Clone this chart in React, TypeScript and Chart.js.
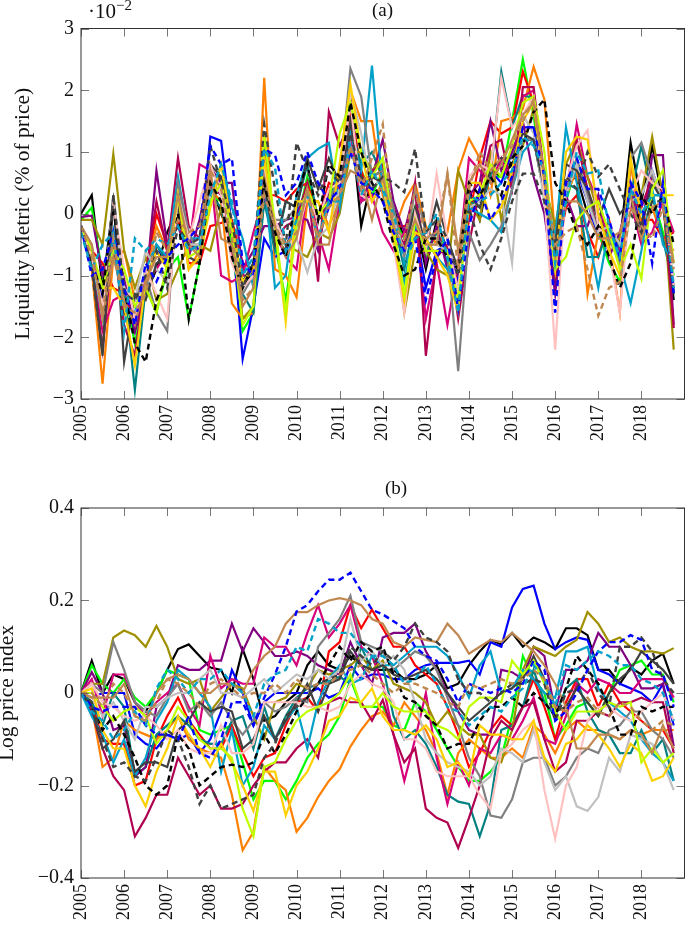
import React, { useEffect, useRef } from "react";
import { Chart, registerables } from "chart.js";

Chart.register(...registerables);

const FONT = '"Liberation Serif", serif';

const years = [2005, 2006, 2007, 2008, 2009, 2010, 2011, 2012, 2013, 2014, 2015, 2016, 2017, 2018];
const quarters = years.flatMap((y) => [y, y + 0.25, y + 0.5, y + 0.75]);

const seriesColors = ["#000000", "#00ff00", "#0000ff", "#ff0000", "#ff8000", "#008080", "#800080", "#d6007a", "#a09000", "#b00050", "#00a0c8", "#808080", "#c0c0c0", "#404040", "#ffc0c0", "#ffd000", "#c0ff00", "#c08850", "#000000", "#404040", "#0000ff", "#00a0c8", "#c08850"];
const seriesDashed = [false, false, false, false, false, false, false, false, false, false, false, false, false, false, false, false, false, false, true, true, true, true, true];

// Panel (a): liquidity metric, in units of 10^-2
const liqBlack = [0, .3, -1.2, .2, -1.6, -1.9, -1.3, -.9, -.3, .1, -.5, -.6, .5, 0, -.4, -1.2, -.9, .4, -.4, -.6, -.1, .5, -.1, .1, .6, 1.6, -.2, .6, .7, .1, -.4, -.1, -.9, -.1, -.6, -1.1, .4, -.1, .7, .6, .8, 1.2, 1.2, .3, -1, .5, .6, 0, -.2, -.3, -.5, 1.15, .2, 1.1, .2, -1.4];
const liqLime = [-.1, .1, -1, -.3, -1.2, -2.1, -1.2, -1.6, -.9, -.7, -1.7, -.8, .3, .2, -.5, -1.9, -1.6, .3, -.5, -1.4, -.2, .6, -.1, .2, .7, 1.7, .7, .3, .7, -.1, -.4, .1, -.7, -.3, -.6, -1.2, .1, .3, .6, .6, 1.5, 2.5, 1.6, .2, -1.1, .2, .8, .4, -.3, -.8, -1.1, .1, -.1, .3, -.3, -1];
const liqBlue = [-.2, -.7, -1.4, -.3, -1.3, -1.9, -1.1, -.6, -.7, -.1, -.4, -.6, 1.25, 1.18, -.2, -2.35, -1.5, -.4, -.7, -.6, 0, .4, -.4, .1, .5, 1.4, .6, .3, .4, -.4, -.6, -.2, -1.2, -.6, -.5, -1.1, .3, .2, .7, .5, 1, 1.4, 1.4, .3, -1.2, .4, .7, .2, -.4, -.3, -.8, .5, -.2, .7, .2, -1.2];
const liqRed = [-.3, -.6, -.8, -1.2, -1.3, -1.8, -1, 0, -.5, -.1, -.8, -.8, -.2, -.15, -.1, -.8, -.9, .3, .3, .2, .4, .5, -.1, .5, .4, 1.7, .7, .2, .5, -.2, -.2, -.1, -.4, -.7, -.5, -1.2, -.1, .9, 1.5, 1.3, 1.4, 2.3, 1.8, .3, -.8, .1, .3, -.3, -.7, -.1, -.8, .1, -.1, -.1, -.4, -.3];
const liqOrange = [-.2, -.9, -2.75, -.7, -.6, -1.4, -1, -.2, -.6, .2, -.9, -.6, .4, .2, -1.45, -1.7, -1.6, 2.2, -.9, -1, -1.35, .2, .2, -.2, .2, 2, 1.5, 1.5, .3, -.3, .2, .5, -.2, -.5, -.3, .7, 1.22, .9, .3, 1.5, 1.55, 1.7, 2.38, 1.85, -.4, .3, .7, -1.3, -.3, -.5, -1.6, .8, -.2, .1, -.4, -.6];
const liqTeal = [-.2, -.6, -1.8, -.6, -1.2, -2.85, -1.2, -.5, -.8, .4, -.6, -.5, .3, .1, -.6, -1.3, -1.6, .2, -.6, .2, .1, .8, -.1, .3, .7, 1.4, .8, 1, .6, -.1, -.9, -.1, -.6, -.3, -.8, -1, .2, .1, .6, 2.3, 1.4, 1.92, 1.87, .3, -1, .5, .4, -.7, -.7, -.2, -.6, .3, 1.1, .3, -.4, -1.2];
const liqPurple = [-.05, -.03, -1, -.6, -1, -1.9, -1.2, .7, -.5, -.2, -.7, -.1, .75, .5, .5, -.9, -.6, -.2, -.2, -.1, -.05, -.1, -.6, .4, .6, 1.9, .2, .6, 1.2, .2, -.3, .4, -.8, -.2, -.9, -1, .3, .5, 1.5, .7, 1, 1.5, .6, 0, -1.3, .3, -.2, -.2, .3, -.7, -.3, .4, -.4, .95, .95, -1.8];
const liqMagenta = [-.2, -.8, -1.9, -1.4, -1.3, -1.4, -1.1, -.9, -.6, .2, -.6, .8, .7, -1, -1.1, -1, -.3, .3, -.3, -.7, -.9, .4, -.3, -.9, .2, 1.3, .2, .3, -.3, -.6, -.3, 0, -1.7, -.8, -1.8, -.8, .9, .7, .5, .9, .4, 1.9, 2, .3, -.9, .3, 1.45, .6, .2, -.4, -.6, .2, -.5, -.3, .2, -.3];
const liqOlive = [-.1, -.1, -.5, .97, -.6, -1.2, -.7, -1.4, -1.3, -.9, -.5, -.5, -.6, .1, -.3, -1.7, -1.5, 1.2, -.4, -.5, -.6, -.7, -.3, -.4, 0, 1, 1, .7, .9, -.2, -1.6, -.6, -.6, -.9, -1, .7, .2, -.1, 1, -.1, .7, 1.1, 1.7, .5, -.2, .8, 1.2, .6, 0, -.5, -.4, .3, .3, 1.25, .3, -2.2];
const liqCrimson = [-.2, -.8, -2.2, -.4, -1.8, -2.3, -1, .2, -.6, .9, -.2, -.4, .5, .3, -.7, -1, -1, .5, -.4, -.2, -.1, .5, -1.1, 1.65, 1.1, 1.5, .4, .7, .8, -.2, -.5, .5, -2.3, -.7, -.5, -1.7, -.5, .4, 1.1, 1.2, .4, 2.05, 2.05, .6, -1, .4, 1.2, .4, -.3, -.2, -.7, .2, .1, .6, .3, -1.85];
const liqCyan = [-.2, -.7, -1.7, -.3, -1.5, -1.6, -.9, -.5, -.7, .6, -.4, -.4, .3, .8, .1, -.4, -1.2, .6, -1.2, -1, .3, .9, 1.05, 1.15, .1, 1.3, .7, 2.4, .4, -.4, -1.1, -.2, -.4, -.7, -.9, -1.3, .1, 0, -.1, -.3, .4, 1, 1.2, .4, -.4, 1.4, .5, -.3, -1.2, -.2, -.8, -1.45, -.6, .4, -.5, -.8];
const liqGray = [-.2, -.5, -1.6, .3, -1.3, -1.4, -1, -1.6, -1.9, .5, -.3, -.7, .5, .4, -.3, -1.3, -1, .4, -.1, -.1, .1, .3, -.4, .2, .6, 2.35, 1.9, .6, .7, .1, -.7, .4, -.3, -.4, -.6, -2.55, -.3, -.75, -.5, -.2, .4, 1.2, 1.2, .6, -.7, .4, .9, .3, -.3, -.4, -.8, .9, 1.15, .6, .2, -1.2];
const liqLightGray = [-.2, -.6, -1.7, .1, -1.2, -1.4, -.6, -.9, -1.1, .3, -.5, -.5, .3, .4, -.3, -1.2, -1, .5, -.3, -.5, -.4, -.95, -.4, -.2, .4, 2, 1.3, .4, .6, -.1, -.6, 0, -.5, -.5, -.6, -1.2, .1, .2, .4, .3, -.8, 1.6, 1.3, .2, -.9, .3, .8, .2, -.3, -.2, -.5, .2, .3, .7, .2, -1.1];
const liqDarkGray = [-.2, -.8, -2.3, .3, -2.4, -1.3, -1.4, -.8, -.7, .1, -.7, -.8, .8, .6, -.2, -1.1, -.8, .5, -.5, .2, .1, .9, .4, .9, .5, 1.5, .4, .6, .5, -.3, -.6, .1, -.5, .2, -.4, -.9, .3, .1, .7, .9, .9, 1.3, 1.2, .4, -.5, .8, .7, .4, -.1, .4, .0, .2, -.2, .5, .2, -1.3];
const liqPink = [-.2, -.7, -1.5, .15, -.9, -1.7, -.9, -1.3, -1.7, .3, -.4, .2, .8, .3, -.8, -1.2, -1, .8, -.1, -.5, -.4, .3, -.1, .4, .5, 1.8, .3, .2, .5, -.5, -1.6, 0, -.6, .65, -.4, -1.3, .6, .8, .7, 2.2, 1.4, 1.6, 1.9, .3, -2.2, .5, 1.1, 1.35, -.2, -.6, -1.6, .3, .7, .5, .4, -1.2];
const liqYellow = [-.2, -.6, -1.2, -1.2, -1.5, -2.45, -1.1, -.6, -.9, .3, -.9, -.7, .1, .8, -.2, -1.1, -.9, .9, -.2, -1.75, .2, .2, .2, -.3, .8, 2.1, 1, .2, .5, -.4, -1.4, -.3, -.4, -.7, -1, -1.6, .5, .5, -.1, .1, .7, 1.5, 1.8, .5, -.9, 1, 1.25, 1.2, 0, -.6, -1, .9, 0, .3, .3, .3];
const liqYellowGreen = [-.2, -.6, -1.2, -.6, -.9, -1.5, -1.2, -1.6, -.8, .3, -.7, -.6, .2, .5, -.3, -1.8, -1.5, 1.3, -.2, -1.6, -.2, .4, 0, .2, 1.3, 1.8, 1, .6, .9, -.2, -1.3, -.1, -.6, -.6, -.6, -1.4, .2, .3, .8, .6, 1.1, 1.8, 1.9, 1, -.9, -.7, -.1, .1, .2, -.3, -.9, -.5, -1.05, .4, .7, -.8];
const liqBrown = [-.2, -.5, -1.7, -.7, -1.4, -1.8, -1.1, -.7, -.7, .3, -.5, -.7, .7, -.4, -.5, -1.5, -1.2, .6, -.2, -.7, -.4, .4, -.5, -.5, .3, .7, .6, -.1, .6, -.2, -.6, -.1, -.5, -.5, .65, -.6, .5, .8, .5, .8, 1.2, 1.6, 1.8, .6, -.7, .2, .2, .0, -.4, -.4, -.3, .3, -.4, .1, .2, -.8];
const liqBlackDash = [-.2, -.8, -1.3, .1, -1.2, -2.1, -2.4, -1.4, -1, 0, -1.7, -.8, .5, .2, -.7, -1.2, -.8, .5, -.3, -.7, .3, .8, -.1, .8, .6, 1.8, 1, .5, .2, -.5, -1, -.9, -.4, -.4, -.7, -.9, .5, .3, .6, .3, .9, 1.1, 1.65, 1.85, .5, .2, -.3, -.5, -.2, -.7, -1.2, -.8, .3, 0, .3, -.5];
const liqDarkDash = [-.2, -.9, -2.25, .3, -1.3, -1.4, -1, -.6, -1.2, -.2, -.5, -.4, 1.1, .5, -.1, -1.2, -.8, 1.45, .4, -.5, 1.15, .7, .3, .7, .5, 1.3, .6, .4, .6, .5, .35, 1.05, -.3, -.1, -.4, -1, .1, -.5, -.9, -.4, .2, .65, .65, .2, -.6, .6, .4, 1, .6, .8, .4, 0, -.3, .2, .2, -1.3];
const liqBlueDash = [-.2, -1, -.9, -.3, -1.2, -1.8, -.8, -1.1, -.7, -.5, -.4, -.2, 1.1, .8, .9, -.8, -1, 1.05, .95, .3, .5, 1, .5, .2, .4, 1, .5, .4, .2, -.3, -.6, -.4, -1.4, -.7, -.4, -1.55, -.2, .4, -.1, .2, .6, 1.4, 1.4, .6, -1.6, .5, .9, .4, .4, -.1, -.7, .5, .2, -.8, .5, -1.3];
const liqCyanDash = [-.3, -.9, -.5, -.3, -1.9, -.4, -.6, -.4, -.5, -.2, -.6, -.5, .3, .8, .2, -1, -.7, 1.05, .75, -.6, -.1, .3, -.4, .2, .2, 1.15, .3, .7, .4, .0, -.8, -.4, -.3, .0, -.7, -1.6, .3, .2, .3, .5, .7, 1.25, 1.1, .7, -.8, .2, 1, .65, .7, -.2, -.7, .4, 0, .3, .3, -1.2];
const liqBrownDash = [-.2, -.7, -1.6, -.4, -1.5, -1.6, -1.3, -.3, -.6, -.1, -.3, -.2, .7, .4, -.4, -1.4, -1.2, .3, -.2, -.5, -.3, .4, -.4, .1, .3, 1.1, .4, .9, 1.45, -.2, -.4, .4, -.4, -.3, .65, -.9, .4, 1, .7, .9, 1.1, 1.5, 1.85, .6, -.5, -.3, -.2, -.9, -1.65, -1.2, -1.1, .1, -.2, -.4, .1, -.9];

// Panel (b): log price index
const priceBlack = [0, .07, 0, .04, .03, -.02, -.04, 0, .05, .095, .105, .08, .055, .05, 0, .095, .03, -.06, -.05, -.02, 0, .06, .09, .06, .05, .08, .06, .05, .05, .05, .03, .03, .04, .06, .01, .02, .06, .09, .115, .105, .13, .1, .12, .11, .095, .14, .14, .125, .05, .05, .02, .055, .04, .07, .085, .02];
const priceLime = [0, .06, .02, .0, .03, -.01, -.03, .0, .05, .04, .03, -.08, -.09, -.08, -.07, -.15, -.23, -.19, -.19, -.23, -.19, -.14, -.11, -.09, -.05, .03, -.03, -.03, -.03, -.07, -.08, -.02, -.04, -.08, -.12, -.16, -.19, -.19, -.17, -.14, -.05, .08, .03, .0, -.1, -.07, -.03, -.02, -.05, .0, .05, .06, .07, .04, .04, -.02];
const priceBlue = [0, -.01, 0, 0, 0, -.09, -.11, -.12, -.09, -.1, -.09, -.13, -.1, -.04, .05, .0, -.07, -.02, .0, .0, .0, .0, .01, -.01, 0, .06, .03, .04, .04, .03, .03, .05, .06, .065, .065, .065, .07, .04, .11, .1, .185, .225, .232, .15, .095, .11, .12, .115, .05, .04, .02, .01, .0, -.02, .02, -.07];
const priceRed = [0, -.02, -.1, -.11, -.11, -.2, -.19, -.1, -.05, -.01, -.06, -.09, -.12, -.12, -.07, -.13, -.18, -.14, -.13, -.07, -.02, -.01, -.04, .09, .11, .19, .14, .18, .14, .1, .1, .06, .04, .02, -.03, -.09, -.16, -.13, -.08, -.05, -.07, -.03, .03, -.03, -.1, -.02, .03, .03, -.03, .02, -.02, -.04, -.06, -.08, -.08, -.12];
const priceOrange = [0, -.03, -.16, -.14, -.06, -.08, -.09, -.1, -.08, -.05, -.1, -.12, -.13, -.14, -.22, -.34, -.3, -.16, -.19, -.21, -.3, -.27, -.225, -.19, -.165, -.116, -.08, -.05, -.04, -.07, -.02, -.05, -.08, -.13, -.22, -.13, -.1, -.12, -.14, -.14, -.12, -.14, -.07, -.09, -.13, -.08, -.06, -.08, -.08, -.09, -.1, -.08, -.09, -.08, -.08, -.08];
const priceTeal = [0, -.02, -.07, 0, -.03, -.18, -.16, -.09, -.07, -.05, -.07, -.1, -.11, -.11, -.06, -.05, -.12, -.03, -.1, -.05, -.01, .01, .02, .025, .035, .02, .1, .05, .06, -.05, -.1, -.08, -.11, -.16, -.22, -.235, -.24, -.31, -.24, -.08, -.07, -.03, .05, -.02, -.05, .01, .03, -.04, -.08, -.09, -.13, -.13, -.08, -.13, -.1, -.19];
const pricePurple = [0, .045, 0, -.08, -.07, -.18, -.16, -.03, -.01, .06, .05, .05, .07, .07, .15, .09, .14, .11, .08, .08, .09, .08, .06, .05, .04, .11, .06, .02, .12, .13, .13, .15, .09, .05, 0, -.04, -.08, -.09, -.09, .05, .045, .03, .1, .08, -.04, .05, .05, .07, .13, .1, .1, .06, .01, .01, .02, -.115];
const priceMagenta = [0, .03, -.05, .04, .04, -.02, -.05, -.02, .0, .02, -.03, -.07, .08, .01, .03, .02, .02, .12, .1, .1, .06, .13, .19, .12, .15, .19, .1, .08, .02, -.09, -.19, -.1, .0, -.14, -.24, -.15, -.2, -.12, -.13, -.09, -.1, -.06, -.01, -.1, -.11, -.05, .02, .0, .03, .02, .0, .0, .03, .03, .03, -.01];
const priceOlive = [0, .02, .02, .12, .135, .125, .1, .145, .1, .03, .02, .03, -.04, -.01, .02, .01, -.05, -.1, -.02, -.01, .02, .01, .05, .04, .05, .06, .08, .05, .07, .02, .01, 0, -.02, -.07, -.04, -.07, -.09, -.09, -.14, -.15, -.08, .05, .1, .09, .08, .1, .115, .175, .15, .11, .12, .1, .09, .09, .085, .097];
const priceCrimson = [0, -.04, -.12, -.18, -.21, -.31, -.27, -.22, -.22, -.14, -.18, -.22, -.2, -.25, -.25, -.24, -.2, -.17, -.15, -.15, -.12, -.1, -.14, -.02, -.01, -.02, -.02, -.06, -.015, -.09, -.15, -.12, -.25, -.27, -.28, -.335, -.27, -.2, -.1, -.06, -.08, -.03, -.02, -.1, -.17, -.15, -.06, -.06, -.04, -.05, -.02, -.02, -.01, -.02, -.02, -.13];
const priceCyan = [0, -.05, -.09, -.15, -.1, -.18, -.14, -.06, -.02, .05, .03, .0, -.03, -.17, -.08, -.2, -.16, -.07, -.1, -.06, -.03, -.12, -.02, .03, .06, .02, .03, .08, .06, .06, .08, .1, .1, .1, .08, .04, -.01, .06, .09, .0, .01, .05, .03, .0, -.01, .09, .09, .1, .01, -.02, -.04, -.06, -.1, -.13, -.15, -.19];
const priceGray = [0, .02, .0, .11, .05, -.02, -.04, -.05, -.01, .02, -.04, -.02, -.05, -.02, -.06, -.09, -.06, -.02, -.04, -.03, -.01, -.02, .1, .13, .16, .21, .11, .1, .09, .05, .07, .09, .08, .05, -.01, -.07, -.14, -.18, -.265, -.27, -.23, -.15, -.14, -.14, -.2, -.18, -.14, -.12, -.13, -.08, -.07, -.04, -.04, -.08, -.1, -.14];
const priceLightGray = [0, -.01, -.05, -.02, -.06, -.1, -.03, -.03, -.01, .0, .0, .03, .05, .0, .0, -.01, .01, .03, .0, .02, .04, .03, .05, .03, .05, .16, .07, .09, .06, .08, .05, -.02, -.1, -.13, -.15, -.16, -.17, -.2, -.18, -.12, -.13, -.15, -.08, -.15, -.21, -.18, -.245, -.255, -.225, -.14, -.17, -.09, -.1, -.11, -.15, -.21];
const priceDarkGray = [0, -.03, -.12, -.1, -.06, -.17, -.15, -.15, -.16, -.08, -.06, -.02, -.04, -.03, -.04, -.12, -.1, -.05, -.1, -.06, -.02, .02, -.04, .02, .03, .09, .06, .05, .06, .04, .03, .04, .05, .03, .0, -.03, -.06, -.04, -.02, .0, .01, .03, .08, .03, -.04, -.03, .01, -.02, -.05, .0, .03, .05, .09, .07, .05, .02];
const pricePink = [0, .02, -.02, -.03, -.05, -.06, -.05, -.07, -.1, -.08, -.12, -.13, -.13, -.07, -.13, -.13, -.11, -.02, -.02, -.02, -.02, -.03, -.03, -.04, -.03, .02, .04, .02, .01, -.02, -.1, -.1, -.12, -.17, -.18, -.18, -.18, -.22, -.25, -.13, -.11, -.08, -.06, -.21, -.315, -.2, -.16, -.06, -.03, -.03, -.05, -.06, -.04, -.02, .0, -.06];
const priceYellow = [0, .01, -.08, -.12, -.12, -.2, -.245, -.17, -.12, -.05, -.09, -.12, -.16, -.11, -.15, -.2, -.255, -.17, -.17, -.265, -.2, -.17, -.12, -.06, -.05, -.01, -.02, .01, -.05, -.08, -.08, -.09, -.07, -.1, -.16, -.15, -.18, -.07, -.09, -.09, -.1, -.1, -.06, -.14, -.17, -.11, -.1, -.07, -.09, -.12, -.16, -.11, -.13, -.19, -.18, -.14];
const priceYellowGreen = [0, .0, -.03, -.06, -.04, -.03, -.05, -.11, -.08, -.03, -.06, -.1, -.12, -.12, -.14, -.25, -.31, -.16, -.15, -.1, -.06, -.04, -.03, -.02, .0, .04, -.03, -.03, .0, -.03, -.04, -.04, -.04, -.07, -.08, -.1, -.03, -.01, -.01, -.02, .07, .04, .07, .02, -.04, -.08, -.04, -.04, -.04, -.02, -.03, -.02, -.15, -.12, -.15, -.13];
const priceBrown = [0, -.01, -.01, -.01, .02, -.05, -.06, .0, .03, .04, .03, .0, .0, .02, .02, .0, .05, .08, .1, .15, .175, .175, .19, .2, .205, .2, .19, .16, .15, .11, .1, .12, .115, .11, .15, .125, .085, .1, .115, .11, .13, .11, .09, .06, .02, -.03, -.12, -.12, -.09, -.09, -.1, -.08, -.09, -.13, -.07, -.12];
const priceBlackDash = [0, -.03, -.08, -.05, -.09, -.14, -.2, -.22, -.2, -.09, -.12, -.2, -.18, -.16, -.155, -.16, -.15, -.09, -.13, -.09, -.04, -.01, .02, .06, .1, .07, .11, .09, .1, .04, -.01, -.02, -.05, -.07, -.12, -.11, -.11, -.06, -.03, -.03, -.01, -.03, 0, -.02, -.05, .01, .08, .05, .02, -.03, -.09, -.09, -.03, -.04, -.03, -.03];
const priceDarkDash = [0, -.02, -.1, -.16, -.15, -.18, -.19, -.14, -.08, -.1, -.16, -.24, -.2, -.25, -.24, -.23, -.22, -.14, -.11, -.05, -.03, -.01, .02, .03, .04, .1, .08, .06, .09, .07, .1, .15, .12, .11, .09, .03, .0, .0, -.02, .0, .02, .02, .03, .02, -.06, .0, .01, .05, -.0, -.03, .1, .1, .12, .09, .03, .0];
const priceBlueDash = [0, -.03, -.04, -.03, -.03, -.03, -.07, -.09, -.09, -.1, -.05, -.13, -.14, -.1, -.02, -.02, -.07, -.01, .04, .1, .176, .19, .22, .245, .245, .26, .22, .18, .17, .155, .14, .1, .08, .07, .03, -.02, .02, .01, 0, .01, .0, .02, .07, .05, -.06, -.04, .0, .05, .09, .11, .11, .125, .115, .05, .04, -.03];
const priceCyanDash = [0, -.04, -.06, -.1, -.08, -.04, -.07, .01, .05, .03, .0, .03, .03, .05, .02, .0, -.05, .02, .04, .05, .1, .09, .16, .15, .13, .13, .1, .08, .08, .06, .02, .03, .06, .02, -.03, -.04, -.07, -.05, -.03, -.04, -.01, .01, .06, .03, -.03, .06, .05, .07, .09, .08, .06, .06, .03, .02, .0, -.06];
const priceBrownDash = [0, 0, -.03, .02, .0, -.05, -.06, -.02, .03, .02, .0, -.03, .02, .03, .01, -.01, .0, .0, .02, .0, .03, .01, .02, .02, .04, .05, .06, .04, .02, .0, .02, .02, .01, .0, -.02, -.03, .02, .01, .02, .03, .02, .03, .05, .03, -.03, -.04, -.02, -.01, -.04, -.05, -.02, -.03, -.06, -.08, -.06, -.07];

const liquiditySeries = [liqBlack, liqLime, liqBlue, liqRed, liqOrange, liqTeal, liqPurple, liqMagenta, liqOlive, liqCrimson, liqCyan, liqGray, liqLightGray, liqDarkGray, liqPink, liqYellow, liqYellowGreen, liqBrown, liqBlackDash, liqDarkDash, liqBlueDash, liqCyanDash, liqBrownDash];
const priceSeries = [priceBlack, priceLime, priceBlue, priceRed, priceOrange, priceTeal, pricePurple, priceMagenta, priceOlive, priceCrimson, priceCyan, priceGray, priceLightGray, priceDarkGray, pricePink, priceYellow, priceYellowGreen, priceBrown, priceBlackDash, priceDarkDash, priceBlueDash, priceCyanDash, priceBrownDash];

const pgfFrame = {
  id: "pgfFrame",
  afterDatasetsDraw(chart: any) {
    const { ctx, chartArea: a, scales } = chart;
    ctx.save();
    ctx.strokeStyle = "#555";
    ctx.lineWidth = 0.8;
    ctx.beginPath();
    for (const t of scales.x.ticks) {
      const px = Math.round(scales.x.getPixelForValue(t.value)) + 0.5;
      ctx.moveTo(px, a.top); ctx.lineTo(px, a.top + 8);
      ctx.moveTo(px, a.bottom); ctx.lineTo(px, a.bottom - 8);
    }
    for (const t of scales.y.ticks) {
      const py = Math.round(scales.y.getPixelForValue(t.value)) + 0.5;
      ctx.moveTo(a.left, py); ctx.lineTo(a.left + 8, py);
      ctx.moveTo(a.right, py); ctx.lineTo(a.right - 8, py);
    }
    ctx.stroke();
    ctx.strokeStyle = "#333";
    ctx.lineWidth = 1;
    ctx.strokeRect(a.left, a.top, a.right - a.left, a.bottom - a.top);
    ctx.restore();
  },
};

function makeConfig(series: number[][], min: number, max: number, step: number, title: string, titlePad: number, top: number, axisH: number, digits: number) {
  const n = series.length;
  return {
    type: "line",
    data: {
      datasets: series.map((vals, i) => ({
        data: vals.map((y, k) => ({ x: quarters[k], y })),
        borderColor: seriesColors[i],
        borderWidth: seriesDashed[i] ? 2.4 : 2.2,
        borderDash: seriesDashed[i] ? [6, 4] : [],
        pointRadius: 0,
        tension: 0,
        fill: false,
        order: n - i,
      })),
    },
    plugins: [pgfFrame],
    options: {
      animation: false,
      responsive: false,
      devicePixelRatio: 1,
      layout: { padding: { top, right: 0.5, left: 0, bottom: 0 } },
      plugins: { legend: { display: false }, tooltip: { enabled: false } },
      scales: {
        x: {
          type: "linear",
          min: 2005,
          max: 2019,
          grid: { display: false, drawTicks: false },
          border: { display: false },
          afterFit: (s: any) => { s.height = axisH; s.paddingLeft = 0; s.paddingRight = 0; },
          ticks: {
            stepSize: 1,
            autoSkip: false,
            maxRotation: 90,
            minRotation: 90,
            padding: 6,
            color: "#111",
            font: { family: FONT, size: 18 },
            callback: (v: number) => (v === 2019 ? "" : String(v)),
          },
        },
        y: {
          min,
          max,
          grid: { display: false, drawTicks: false },
          border: { display: false },
          afterFit: (s: any) => { s.width = 81; s.paddingTop = 0; s.paddingBottom = 0; },
          title: {
            display: true,
            text: title,
            color: "#111",
            font: { family: FONT, size: 21.5, lineHeight: 1 },
            padding: { top: titlePad, bottom: 0 },
          },
          ticks: {
            stepSize: step,
            padding: 7,
            color: "#111",
            font: { family: FONT, size: 20 },
            callback: (v: number) => {
              const r = Math.abs(v) < 1e-9 ? "0" : Math.abs(v).toFixed(digits);
              return v < -1e-9 ? "\u2212" + r : r;
            },
          },
        },
      },
    },
  };
}

const textBase: React.CSSProperties = { position: "absolute", fontFamily: FONT, color: "#111", lineHeight: 1, whiteSpace: "nowrap" };

export default function App() {
  const refA = useRef<HTMLCanvasElement>(null);
  const refB = useRef<HTMLCanvasElement>(null);

  useEffect(() => {
    const a = new Chart(refA.current as any, makeConfig(liquiditySeries, -3, 3, 1, "Liquidity Metric (% of price)", 13, 28.5, 51, 0) as any);
    const b = new Chart(refB.current as any, makeConfig(priceSeries, -0.4, 0.4, 0.2, "Log price index", -3, 48, 48, 1) as any);
    return () => { a.destroy(); b.destroy(); };
  }, []);

  return (
    <div style={{ position: "fixed", left: 0, top: 0, width: 685, height: 926, background: "#fff", overflow: "hidden" }}>
      <canvas ref={refA} width={685} height={450} style={{ position: "absolute", left: 0, top: 0 }} />
      <canvas ref={refB} width={685} height={466} style={{ position: "absolute", left: 0, top: 460 }} />
      <div style={{ ...textBase, left: 88, top: 1, fontSize: 21 }}>
        ·10<sup style={{ fontSize: 15, lineHeight: 0 }}>−2</sup>
      </div>
      <div style={{ ...textBase, left: 372, top: 0, fontSize: 19 }}>(a)</div>
      <div style={{ ...textBase, left: 385, top: 478, fontSize: 19 }}>(b)</div>
    </div>
  );
}
